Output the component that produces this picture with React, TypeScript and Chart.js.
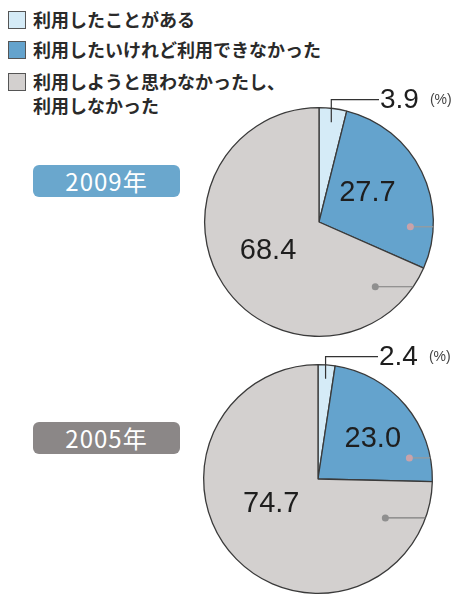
import React, { useEffect, useRef } from "react";
import { Chart, registerables } from "chart.js";

Chart.register(...registerables);

// ---- data ----
const categories = [
  "利用したことがある",
  "利用したいけれど利用できなかった",
  "利用しようと思わなかったし、\n利用しなかった",
];
const yearLabels = ["2009年", "2005年"];
const values2009 = [3.9, 27.7, 68.4];
const values2005 = [2.4, 23.0, 74.7];
const unitLabel = "(%)";

// ---- styles ----
const sliceColors = ["#d5ebf7", "#64a3cd", "#d3d0cf"];
const yearColors = ["#6aa7cd", "#8b8787"];
const NUM_FONT = "'Liberation Sans', Arial, sans-serif";
const JP_FONT = "'Noto Sans CJK JP', 'Liberation Sans', sans-serif";

type LabelSpec = { leader?: boolean; f?: number; da?: number };
type Marker = { ang: number; f: number; color: string; lineColor: string };

const labelSpecs2009: LabelSpec[] = [{ leader: true }, { f: 0.5, da: -6 }, { f: 0.51, da: 4 }];
const labelSpecs2005: LabelSpec[] = [{ leader: true }, { f: 0.6, da: 3 }, { f: 0.46, da: 17 }];
const markers2009: Marker[] = [
  { ang: 93, f: 0.8, color: "#c9a3aa", lineColor: "#9a9a9a" },
  { ang: 139, f: 0.75, color: "#8f8f8f", lineColor: "#7e7e7e" },
];
const markers2005: Marker[] = [
  { ang: 77, f: 0.82, color: "#c9a3aa", lineColor: "#9a9a9a" },
  { ang: 120, f: 0.68, color: "#8f8f8f", lineColor: "#7e7e7e" },
];

const labelPlugin = {
  id: "pieLabels",
  afterDatasetsDraw(chart: any) {
    const opts = chart.options.plugins.pieLabels || {};
    const specs: LabelSpec[] = opts.specs || [];
    const markers: Marker[] = opts.markers || [];
    const values: number[] = chart.data.datasets[0].data;
    const meta = chart.getDatasetMeta(0);
    const ctx = chart.ctx;
    ctx.save();
    const first = meta.data[0];
    const cx = first.x;
    const cy = first.y;
    const R = first.outerRadius;

    // decorative markers
    markers.forEach((m) => {
      const a = ((m.ang - 90) * Math.PI) / 180;
      const px = cx + Math.cos(a) * R * m.f;
      const py = cy + Math.sin(a) * R * m.f;
      const dy = py - cy;
      const ex = cx + Math.sqrt(Math.max(R * R - dy * dy, 0));
      ctx.strokeStyle = m.lineColor;
      ctx.lineWidth = 1.2;
      ctx.beginPath();
      ctx.moveTo(px, py);
      ctx.lineTo(ex, py);
      ctx.stroke();
      ctx.fillStyle = m.color;
      ctx.beginPath();
      ctx.arc(px, py, 3.5, 0, Math.PI * 2);
      ctx.fill();
    });

    meta.data.forEach((arc: any, i: number) => {
      const spec = specs[i] || {};
      const text = values[i].toFixed(1);
      const mid = (arc.startAngle + arc.endAngle) / 2;
      ctx.fillStyle = "#1e1e1e";
      if (spec.leader) {
        const sx = cx + Math.cos(mid) * R * 0.88;
        const sy = cy + Math.sin(mid) * R * 0.88;
        const ly = cy - R - 8;
        const lx = cx + 60;
        ctx.strokeStyle = "#333";
        ctx.lineWidth = 1.2;
        ctx.beginPath();
        ctx.moveTo(sx, sy);
        ctx.lineTo(sx, ly);
        ctx.lineTo(lx, ly);
        ctx.stroke();
        ctx.font = `28px ${NUM_FONT}`;
        ctx.textAlign = "left";
        ctx.textBaseline = "middle";
        ctx.fillText(text, lx + 1, ly + 1);
        const w = ctx.measureText(text).width;
        ctx.font = `14px ${NUM_FONT}`;
        ctx.fillStyle = "#444";
        ctx.fillText(unitLabel, lx + w + 12, ly);
      } else {
        const a = mid + ((spec.da || 0) * Math.PI) / 180;
        const f = spec.f ?? 0.55;
        const tx = cx + Math.cos(a) * R * f;
        const ty = cy + Math.sin(a) * R * f;
        ctx.font = `29px ${NUM_FONT}`;
        ctx.textAlign = "center";
        ctx.textBaseline = "middle";
        ctx.fillText(text, tx, ty + 1);
      }
    });
    ctx.restore();
  },
};

function PieChart(props: {
  values: number[];
  specs: LabelSpec[];
  markers: Marker[];
  style: React.CSSProperties;
}) {
  const ref = useRef<HTMLCanvasElement | null>(null);
  useEffect(() => {
    if (!ref.current) return;
    const chart = new Chart(ref.current, {
      type: "pie",
      data: {
        labels: categories,
        datasets: [
          {
            data: props.values,
            backgroundColor: sliceColors,
            borderColor: "#3a3a3a",
            borderWidth: 1.3,
          },
        ],
      },
      options: {
        animation: false,
        responsive: false,
        events: [],
        layout: { padding: { left: 23, top: 22, right: 27, bottom: 4 } },
        plugins: {
          legend: { display: false },
          tooltip: { enabled: false },
          pieLabels: { specs: props.specs, markers: props.markers },
        } as any,
      },
      plugins: [labelPlugin],
    });
    return () => chart.destroy();
  }, []);
  return <canvas ref={ref} width={280} height={256} style={{ position: "absolute", ...props.style }} />;
}

export default function App() {
  return (
    <div
      style={{
        position: "absolute",
        left: 0,
        top: 0,
        width: 461,
        height: 596,
        background: "#fff",
        overflow: "hidden",
        fontFamily: JP_FONT,
      }}
    >
      {/* legend */}
      {categories.map((c, i) => {
        const tops = [11, 41, 73];
        return (
          <div key={i} style={{ position: "absolute", left: 8, top: tops[i] }}>
            <div
              style={{
                position: "absolute",
                left: 0,
                top: 0,
                width: 16,
                height: 16,
                background: sliceColors[i],
                border: "1.5px solid #555",
              }}
            />
            <div
              style={{
                position: "absolute",
                left: 25,
                top: -4,
                whiteSpace: "pre",
                fontSize: 18,
                lineHeight: "24px",
                fontWeight: 700,
                color: "#2a2a2a",
              }}
            >
              {c}
            </div>
          </div>
        );
      })}

      {/* year boxes */}
      {yearLabels.map((y, i) => (
        <div
          key={y}
          style={{
            position: "absolute",
            left: 33,
            top: i === 0 ? 165 : 422,
            width: 147,
            height: 32,
            borderRadius: 6,
            background: yearColors[i],
            color: "#fff",
            fontSize: 24,
            lineHeight: "32px",
            textAlign: "center",
            letterSpacing: 1,
            fontFamily: JP_FONT,
          }}
        >
          {y}
        </div>
      ))}

      <PieChart values={values2009} specs={labelSpecs2009} markers={markers2009} style={{ left: 181, top: 85 }} />
      <PieChart values={values2005} specs={labelSpecs2005} markers={markers2005} style={{ left: 180, top: 342 }} />
    </div>
  );
}
